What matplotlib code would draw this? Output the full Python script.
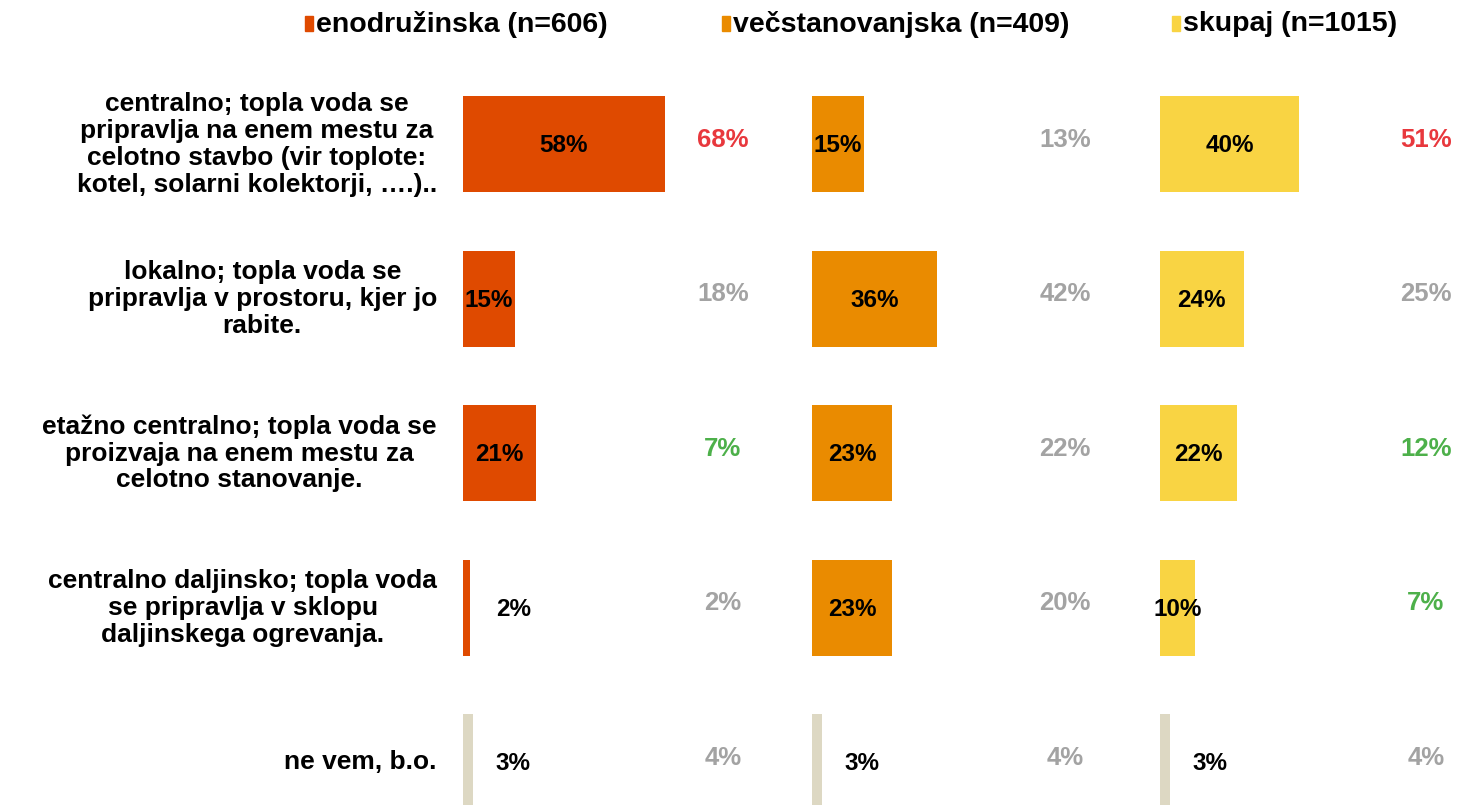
import numpy as np
import matplotlib.pyplot as plt
from matplotlib.patches import Rectangle

plt.rcParams['font.family'] = ['Liberation Sans', 'DejaVu Sans']
plt.rcParams['font.weight'] = 'bold'

categories = [
    "centralno; topla voda se\npripravlja na enem mestu za\ncelotno stavbo (vir toplote:\nkotel, solarni kolektorji, \u2026.)..",
    "lokalno; topla voda se\npripravlja v prostoru, kjer jo\nrabite.",
    "eta\u017eno centralno; topla voda se\nproizvaja na enem mestu za\ncelotno stanovanje.",
    "centralno daljinsko; topla voda\nse pripravlja v sklopu\ndaljinskega ogrevanja.",
    "ne vem, b.o.",
]
series_names = ["enodru\u017einska (n=606)", "ve\u010dstanovanjska (n=409)", "skupaj (n=1015)"]

enodruzinska = [58, 15, 21, 2, 3]
vecstanovanjska = [15, 36, 23, 23, 3]
skupaj = [40, 24, 22, 10, 3]

# primerjalne vrednosti (desno od stolpcev)
prej_eno = [68, 18, 7, 2, 4]
prej_vec = [13, 42, 22, 20, 4]
prej_sku = [51, 25, 12, 7, 4]

RED, GREY, GREEN = '#E8383D', '#A3A3A3', '#4DB04A'
barve_eno = [RED, GREY, GREEN, GREY, GREY]
barve_vec = [GREY, GREY, GREY, GREY, GREY]
barve_sku = [RED, GREY, GREEN, GREEN, GREY]

colors = ['#DF4A00', '#EA8B00', '#F9D443']
beige = '#DDD8C3'

W, H = 1457, 805
fig = plt.figure(figsize=(W / 100, H / 100), dpi=100)

px_per_pct = 3.48
panel_left = [463, 812, 1160]
comp_x = [74.7, 72.7, 76.4]
ax_top, row_h = 67, 154.5
ymax = (H - ax_top) / row_h - 0.5

data = [enodruzinska, vecstanovanjska, skupaj]
prej = [prej_eno, prej_vec, prej_sku]
prej_col = [barve_eno, barve_vec, barve_sku]
y = np.arange(len(categories))

for k in range(3):
    width_px = 340
    ax = fig.add_axes([panel_left[k] / W, 0, width_px / W, (H - ax_top) / H])
    ax.set_xlim(0, width_px / px_per_pct)
    ax.set_ylim(ymax, -0.5)
    bc = [colors[k]] * 4 + [beige]
    ax.barh(y, data[k], height=0.62, color=bc)
    for i, v in enumerate(data[k]):
        xt = v / 2 if v >= 8 else 14.5
        ax.text(xt, y[i] + 0.01, f"{v}%", ha='center', va='center', fontsize=17.5,
                fontweight='bold', color='black')
        ax.text(comp_x[k], y[i] - 0.03, f"{prej[k][i]}%", ha='center', va='center',
                fontsize=18.5, fontweight='bold', color=prej_col[k][i])
    ax.axis('off')
    if k == 0:
        for i, c in enumerate(categories):
            ax.text(-26 / px_per_pct, y[i], c, ha='right', va='center',
                    multialignment='center', fontsize=19, fontweight='bold',
                    linespacing=1.15)

# legenda
leg_x = [305, 722, 1172]
for k in range(3):
    fig.patches.append(Rectangle((leg_x[k] / W, 1 - 31 / H), 8 / W, 15 / H,
                                 transform=fig.transFigure, color=colors[k]))
    fig.text((leg_x[k] + 11) / W, 1 - 24 / H, series_names[k], ha='left', va='center',
             fontsize=20.5, fontweight='bold')

fig.savefig("out.png", dpi=100)
